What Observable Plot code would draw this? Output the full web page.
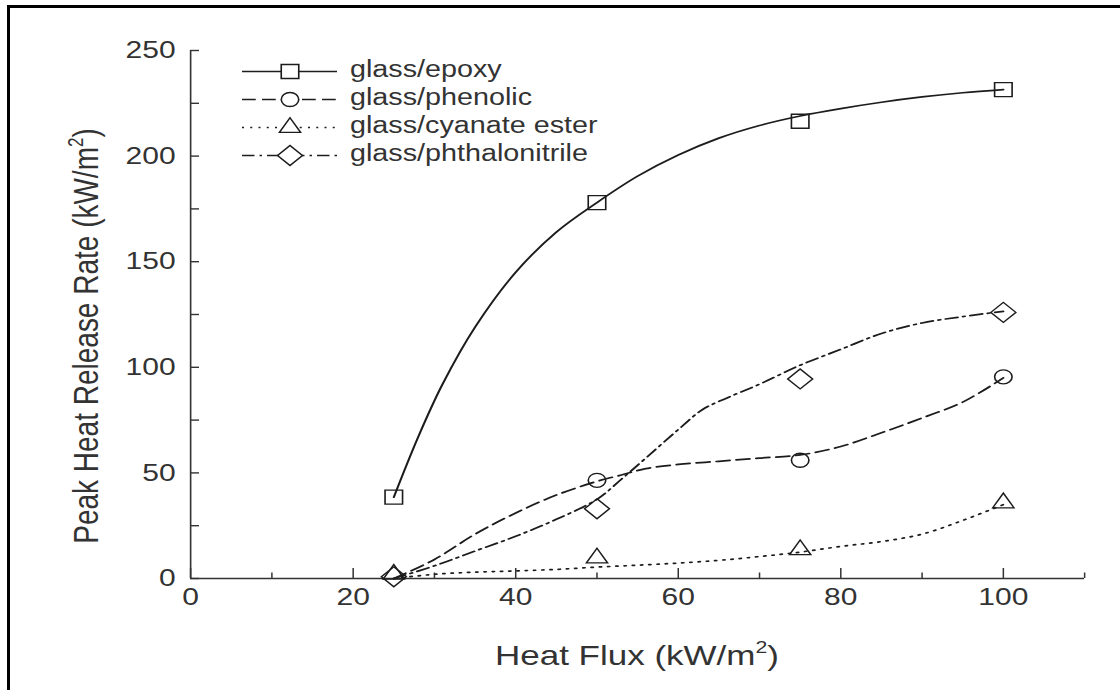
<!DOCTYPE html>
<html>
<head>
<meta charset="utf-8">
<script src="https://cdn.jsdelivr.net/npm/d3@7"></script>
<script src="https://cdn.jsdelivr.net/npm/@observablehq/plot@0.6"></script>
<style>
  html, body { margin: 0; padding: 0; background: #fff; }
  #chart { position: relative; width: 1120px; height: 690px; overflow: hidden; background: #fff; }
  #frame { position: absolute; left: 7px; top: 5px; right: 0; bottom: 0; border-left: 3px solid #000; border-top: 3px solid #000; pointer-events: none; }
</style>
</head>
<body>
<div id="chart"><div id="frame"></div></div>
<script>
// ---------- data ----------
const seriesNames = ["glass/epoxy", "glass/phenolic", "glass/cyanate ester", "glass/phthalonitrile"];

// measured points
const epoxyX = [25, 50, 75, 100];
const epoxyY = [38.5, 178, 216.5, 231.5];
const phenolicX = [50, 75, 100];
const phenolicY = [46.5, 56, 95.5];
const cyanateX = [25, 50, 75, 100];
const cyanateY = [2, 9.7, 13.6, 35.8];
const phthaloX = [25, 50, 75, 100];
const phthaloY = [0.8, 33, 94.5, 126];

// fitted curves
const epoxyFitX = [25, 28, 31, 35, 40, 45, 50, 55, 60, 65, 70, 75, 80, 85, 90, 95, 100];
const epoxyFitY = [38.5, 67, 92, 119, 145, 164, 178, 190.5, 200.5, 208.5, 214.5, 219, 222.5, 225.5, 228, 230, 231.5];
const phenolicFitX = [25, 30, 35, 40, 45, 50, 53, 56, 60, 65, 70, 75, 80, 85, 90, 95, 100];
const phenolicFitY = [0, 9, 21, 31, 39.5, 46, 49, 52, 54, 55.5, 57, 58.5, 62.5, 69, 76, 83.5, 95];
const cyanateFitX = [25, 30, 35, 40, 45, 50, 55, 60, 65, 70, 75, 80, 85, 90, 95, 100];
const cyanateFitY = [0, 2, 3, 3.6, 4.3, 5.4, 6.3, 7.3, 8.6, 10.4, 12.5, 15.2, 17.5, 21, 27.5, 35];
const phthaloFitX = [25, 30, 35, 40, 45, 50, 53, 56, 60, 63, 66, 70, 75, 80, 85, 90, 95, 100];
const phthaloFitY = [0, 6, 13, 20, 28, 37.5, 47, 57, 70.5, 80, 85.5, 92, 101, 108.5, 116, 121, 124, 126.5];

// axis ticks
const xMajor = [0, 20, 40, 60, 80, 100];
const xMinor = [10, 30, 50, 70, 90, 110];
const yMajor = [0, 50, 100, 150, 200, 250];
const yMinor = [25, 75, 125, 175, 225];

// ---------- styles ----------
const ink = "#1c1c1c";
const axisInk = "#333";
const textInk = "#333";
const font = "'Liberation Sans', Arial, Helvetica, sans-serif";
const styles = [
  {symbol: d3.symbolSquare,   r: 7.9, dash: null},
  {symbol: d3.symbolCircle,   r: 7.0, dash: "11,5"},
  {symbol: d3.symbolTriangle, r: 6.3, dash: "1.6,5"},
  {symbol: d3.symbolDiamond2, r: 9.0, dash: "10,4,2,4"}
];

const toRows = (xs, ys) => xs.map((x, i) => ({x, y: ys[i]}));
const fits = [toRows(epoxyFitX, epoxyFitY), toRows(phenolicFitX, phenolicFitY), toRows(cyanateFitX, cyanateFitY), toRows(phthaloFitX, phthaloFitY)];
const points = [toRows(epoxyX, epoxyY), toRows(phenolicX, phenolicY), toRows(cyanateX, cyanateY), toRows(phthaloX, phthaloY)];

// the original figure is horizontally stretched: draw at W and stretch to 1120
const W = 896, H = 690;
const mL = 152, mR = 28.8, mT = 50, mB = 112;
const frameW = W - mL - mR, frameH = H - mT - mB;

const marks = [
  Plot.ruleX([0], {stroke: axisInk, strokeWidth: 1.3}),
  Plot.ruleY([0], {stroke: axisInk, strokeWidth: 1.5}),
  Plot.tickX(xMajor, {x: d => d, insetTop: frameH - 10, stroke: axisInk, strokeWidth: 1.2}),
  Plot.tickX(xMinor, {x: d => d, insetTop: frameH - 5.5, stroke: axisInk, strokeWidth: 1.2}),
  Plot.tickY(yMajor, {y: d => d, insetRight: frameW - 7.2, stroke: axisInk, strokeWidth: 1.4}),
  Plot.tickY(yMinor, {y: d => d, insetRight: frameW - 7.2, stroke: axisInk, strokeWidth: 1.4}),
  Plot.text(xMajor, {x: d => d, frameAnchor: "bottom", dy: 26, text: d => String(d), fontSize: 24, fill: textInk}),
  Plot.text(yMajor, {y: d => d, frameAnchor: "left", dx: -12, textAnchor: "end", text: d => String(d), fontSize: 24, fill: textInk})
];
fits.forEach((rows, i) => {
  marks.push(Plot.line(rows, {x: "x", y: "y", curve: "catmull-rom", stroke: ink, strokeWidth: 1.7,
    strokeDasharray: styles[i].dash || undefined}));
});
points.forEach((rows, i) => {
  marks.push(Plot.dot(rows, {x: "x", y: "y", symbol: styles[i].symbol, r: styles[i].r, stroke: ink, strokeWidth: 1.3, fill: "none"}));
});

const plot = Plot.plot({
  width: W, height: H,
  marginLeft: mL, marginRight: mR, marginTop: mT, marginBottom: mB,
  x: {domain: [0, 110], axis: null},
  y: {domain: [0, 250], axis: null},
  style: {fontFamily: font, background: "transparent", color: textInk},
  marks
});

plot.setAttribute("width", 1120);
plot.setAttribute("height", H);
plot.setAttribute("preserveAspectRatio", "none");
plot.setAttribute("style", `display:block;width:1120px;height:${H}px;max-width:none;font-family:${font};background:transparent;`);

const svg = d3.select(plot);

// axis titles
const xt = svg.append("text").attr("x", mL + frameW / 2).attr("y", 665)
  .attr("text-anchor", "middle").attr("font-size", 28).attr("fill", textInk).attr("font-family", font);
xt.append("tspan").text("Heat Flux (kW/m");
xt.append("tspan").attr("font-size", 17).attr("dy", -12).text("2");
xt.append("tspan").attr("font-size", 28).attr("dy", 12).text(")");

const yt = svg.append("text").attr("transform", "translate(78,336) rotate(-90)")
  .attr("text-anchor", "middle").attr("font-size", 28).attr("fill", textInk).attr("font-family", font);
yt.append("tspan").text("Peak Heat Release Rate (kW/m");
yt.append("tspan").attr("font-size", 17).attr("dy", -12).text("2");
yt.append("tspan").attr("font-size", 28).attr("dy", 12).text(")");

// legend
const lg = svg.append("g").attr("text-anchor", "start");
seriesNames.forEach((name, i) => {
  const cy = 71.5 + i * 28;
  lg.append("line").attr("x1", 193.6).attr("x2", 269.6).attr("y1", cy).attr("y2", cy)
    .attr("stroke", ink).attr("stroke-width", 1.6)
    .attr("stroke-dasharray", styles[i].dash);
  lg.append("path").attr("transform", `translate(232,${cy})`)
    .attr("d", d3.symbol(styles[i].symbol, Math.PI * styles[i].r * styles[i].r)())
    .attr("fill", "#fff").attr("stroke", ink).attr("stroke-width", 1.3);
  lg.append("text").attr("x", 280).attr("y", cy + 6).attr("font-size", 23)
    .attr("text-anchor", "start")
    .attr("fill", textInk).attr("font-family", font).text(name);
});

document.getElementById("chart").appendChild(plot);
</script>
</body>
</html>
